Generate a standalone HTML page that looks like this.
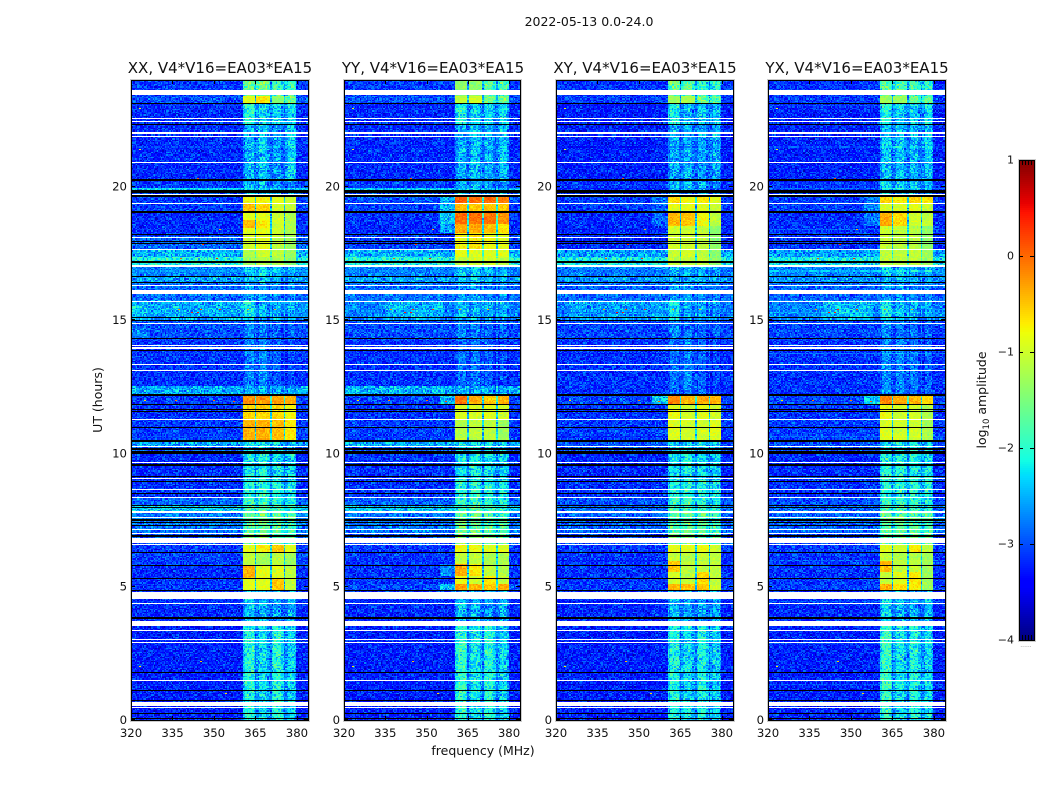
<!DOCTYPE html>
<html lang="en">
<head>
<meta charset="utf-8">
<title>2022-05-13 0.0-24.0</title>
<style>
html,body{margin:0;padding:0;background:#fff;width:1050px;height:800px;overflow:hidden}
#stage{position:relative;width:1050px;height:800px;font-family:"DejaVu Sans","Liberation Sans",sans-serif}
canvas{position:absolute;top:80px;image-rendering:pixelated}
svg{position:absolute;left:0;top:0}
text{font-family:"DejaVu Sans","Liberation Sans",sans-serif;fill:#111}
</style>
</head>
<body>
<div id="stage">
<canvas id="c0" width="177" height="640" style="left:131px"></canvas>
<canvas id="c1" width="176" height="640" style="left:344px"></canvas>
<canvas id="c2" width="177" height="640" style="left:556px"></canvas>
<canvas id="c3" width="177" height="640" style="left:768px"></canvas>
<svg id="overlay" width="1050" height="800">
<text x="589" y="26" text-anchor="middle" font-size="12.5">2022-05-13 0.0-24.0</text>
<text x="220" y="73" text-anchor="middle" font-size="15">XX, V4*V16=EA03*EA15</text>
<text x="433" y="73" text-anchor="middle" font-size="15">YY, V4*V16=EA03*EA15</text>
<text x="645" y="73" text-anchor="middle" font-size="15">XY, V4*V16=EA03*EA15</text>
<text x="857" y="73" text-anchor="middle" font-size="15">YX, V4*V16=EA03*EA15</text>
<text x="483" y="755" text-anchor="middle" font-size="12.5">frequency (MHz)</text>
<text transform="translate(102,400) rotate(-90)" text-anchor="middle" font-size="12.5">UT (hours)</text>
<text transform="translate(986,400) rotate(-90)" text-anchor="middle" font-size="12.5">log<tspan font-size="8.5" dy="3">10</tspan><tspan dy="-3"> amplitude</tspan></text>
<text x="1026" y="647" text-anchor="middle" font-size="6" style="fill:#888">......</text>
</svg>
</div>
<script>
// Axis ticks
const freqTicks = [320, 335, 350, 365, 380];
const timeTicks = [0, 5, 10, 15, 20];
const colorTicks = [1, 0, -1, -2, -3, -4];
const panelNames = ['xx', 'yy', 'xy', 'yx'];

// Sub-band frequency ranges in MHz
const subbands = [[360.5, 365.2], [365.7, 370.4], [370.9, 375.5], [376.2, 380.2]];

// Level rows: [top hour, background, sub-band 1..4, optional wing level near the band]
const levelsXX = [
[24,-3.1,-1.6,-1.5,-1.8,-1.9],[23.42,-3.0,-0.9,-0.7,-1.4,-1.5],[23.12,-3.2,-2.0,-2.3,-2.3,-2.2],
[22.31,-3.2,-2.5,-2.4,-2.6,-2.3],[20.14,-3.1,-2.4,-2.5,-2.6,-2.8],[19.95,-2.4,-2.3,-2.3,-2.4,-2.4],
[19.8,-3.0,-2.3,-2.3,-2.4,-2.5],[19.61,-3.1,-0.8,-0.8,-0.85,-1.0],[19.35,-3.1,-0.5,-0.6,-0.95,-1.1],
[19.05,-3.2,-0.9,-0.9,-1.0,-1.2],[18.75,-3.2,-0.45,-0.7,-1.0,-1.2],[18.45,-3.2,-0.9,-0.9,-1.0,-1.2],
[18.15,-2.9,-1.0,-0.9,-1.1,-1.3],[17.63,-2.5,-1.2,-1.0,-1.1,-1.3],[17.33,-2.1,-1.3,-1.2,-1.2,-1.4],
[17.06,-2.0,-1.6,-1.5,-1.6,-1.7],[16.99,-2.75,-2.4,-2.3,-2.4,-2.5],[16.65,-2.6,-2.4,-2.3,-2.5,-2.5],
[16.39,-2.85,-2.6,-2.6,-2.7,-2.7],[15.75,-2.7,-2.2,-2.5,-2.5,-2.5],[14.93,-3.0,-2.7,-2.8,-2.85,-2.85],
[14.25,-3.15,-2.75,-2.7,-2.9,-3.0],[12.49,-2.55,-2.5,-2.5,-2.5,-2.55],[12.15,-3.1,-0.2,-0.25,-0.3,-0.35],
[11.85,-3.15,-0.6,-0.6,-0.6,-0.8],[11.25,-3.1,-0.4,-0.4,-0.45,-0.7],[10.46,-2.6,-2.2,-2.2,-2.3,-2.4],
[10.24,-2.95,-2.3,-2.2,-2.3,-2.4],[9.98,-3.2,-2.2,-2.1,-2.2,-2.3],[9.0,-3.15,-2.05,-2.0,-2.05,-2.15],
[8.36,-2.9,-1.9,-1.9,-2.0,-2.1],[8.06,-2.35,-1.8,-1.7,-1.8,-1.95],[7.8,-2.8,-1.7,-1.6,-1.7,-1.8],
[6.94,-3.0,-1.6,-1.5,-1.6,-1.8],[6.6,-3.1,-0.9,-0.7,-0.5,-0.9],[6.3,-3.1,-1.1,-1.3,-1.1,-1.3],
[5.78,-3.2,-0.4,-0.9,-0.9,-1.1],[5.32,-3.15,-0.9,-0.9,-0.5,-1.1],[4.84,-3.2,-2.4,-2.5,-2.6,-2.5],
[3.53,-3.25,-2.05,-2.3,-2.0,-2.3]
];
const levelsYY = [
[24,-3.1,-1.4,-1.4,-1.7,-1.8],[23.42,-3.0,-1.1,-1.0,-1.5,-1.5],[23.12,-3.2,-2.1,-2.3,-2.3,-2.3],
[22.31,-3.2,-2.5,-2.4,-2.5,-2.4],[20.14,-3.1,-2.5,-2.5,-2.6,-2.7],[19.95,-2.35,-2.3,-2.3,-2.4,-2.4],
[19.8,-3.0,-2.3,-2.4,-2.4,-2.5],[19.61,-3.0,0.05,-0.05,0.0,-0.1,-2.5],[19.35,-3.1,-0.45,-0.5,-0.5,-0.55,-2.5],
[19.05,-3.15,0.0,-0.05,-0.05,-0.2,-2.4],[18.6,-3.2,-0.35,-0.35,-0.45,-0.65,-2.6],[18.25,-3.1,-0.8,-0.7,-0.8,-0.9],
[17.63,-2.5,-0.85,-0.9,-0.9,-0.9],[17.33,-2.1,-1.1,-1.0,-1.0,-1.1],[17.06,-1.95,-1.5,-1.5,-1.6,-1.7],
[16.99,-2.75,-2.4,-2.3,-2.4,-2.5],[16.65,-2.6,-2.4,-2.3,-2.5,-2.5],[16.39,-2.85,-2.6,-2.6,-2.7,-2.7],
[15.75,-2.75,-2.4,-2.5,-2.5,-2.5],[14.93,-3.0,-2.7,-2.75,-2.85,-2.85],[14.25,-3.15,-2.8,-2.8,-2.9,-3.0],
[12.49,-2.5,-2.45,-2.5,-2.5,-2.5],[12.15,-3.05,-0.1,-0.35,-0.5,-0.4,-2.4],[11.85,-3.15,-0.95,-0.95,-0.9,-1.0],
[11.25,-3.1,-1.15,-1.1,-1.1,-1.3],[10.46,-2.55,-2.2,-2.2,-2.3,-2.4],[10.24,-2.95,-2.3,-2.2,-2.3,-2.4],
[9.98,-3.15,-2.15,-2.1,-2.2,-2.3],[9.0,-3.15,-2.05,-2.0,-2.05,-2.15],[8.36,-2.9,-1.9,-1.9,-2.0,-2.1],
[8.06,-2.4,-1.8,-1.7,-1.8,-1.95],[7.8,-2.8,-1.6,-1.6,-1.7,-1.8],[6.94,-3.0,-1.5,-1.4,-1.5,-1.7],
[6.6,-3.1,-0.8,-0.8,-0.9,-0.9],[6.3,-3.15,-1.1,-1.1,-1.2,-1.2],[5.85,-3.15,-0.35,-0.7,-1.1,-1.2,-2.7],
[5.4,-3.15,-0.85,-1.0,-0.7,-1.1],[5.1,-3.05,-0.3,-0.4,-0.5,-0.35,-2.4],[4.84,-3.2,-2.4,-2.5,-2.6,-2.5],
[3.53,-3.25,-1.95,-2.2,-2.0,-2.3]
];
const levelsXY = [
[24,-3.15,-1.6,-1.7,-1.9,-2.0],[23.42,-3.1,-1.3,-1.2,-1.6,-1.7],[23.12,-3.25,-2.1,-2.4,-2.4,-2.4],
[22.31,-3.25,-2.5,-2.5,-2.6,-2.5],[20.14,-3.15,-2.4,-2.4,-2.5,-2.7],[19.8,-3.1,-2.4,-2.5,-2.5,-2.7],
[19.61,-3.1,-0.6,-0.8,-0.7,-0.9,-2.85],[19.35,-3.1,-0.9,-0.9,-0.9,-1.05,-2.85],[19.05,-3.2,-0.4,-0.5,-0.8,-1.1,-2.9],
[18.5,-3.2,-1.0,-1.0,-1.1,-1.4],[17.63,-2.6,-1.05,-1.0,-1.1,-1.4],[17.33,-2.15,-1.1,-1.1,-1.1,-1.4],
[17.06,-2.0,-1.6,-1.6,-1.6,-1.7],[16.99,-2.75,-2.4,-2.4,-2.5,-2.5],[16.65,-2.65,-2.5,-2.4,-2.5,-2.5],
[16.39,-2.9,-2.6,-2.6,-2.7,-2.7],[15.75,-2.75,-2.15,-2.5,-2.6,-2.6],[14.93,-3.05,-2.7,-2.8,-2.85,-2.85],
[14.25,-3.15,-2.8,-2.7,-2.9,-3.0],[12.15,-3.05,-0.15,-0.4,-0.35,-0.4,-2.4],[11.85,-3.15,-0.85,-1.0,-0.9,-1.0],
[11.25,-3.1,-0.9,-1.0,-1.0,-0.9],[10.46,-3.0,-2.3,-2.2,-2.3,-2.4],[9.98,-3.2,-2.2,-2.1,-2.2,-2.3],
[9.0,-3.15,-2.1,-2.0,-2.1,-2.2],[8.36,-3.0,-1.9,-1.9,-2.0,-2.1],[8.06,-2.85,-1.8,-1.8,-1.9,-2.0],
[7.8,-2.9,-1.7,-1.6,-1.7,-1.8],[6.94,-3.05,-1.6,-1.5,-1.6,-1.7],[6.6,-3.1,-0.85,-0.9,-0.8,-1.0],
[6.3,-3.15,-1.05,-1.15,-1.1,-1.1],[5.95,-3.15,-0.5,-1.1,-1.1,-1.1],[5.55,-3.15,-1.0,-1.1,-0.6,-1.1],
[5.1,-3.1,-0.4,-0.5,-0.5,-1.0],[4.84,-3.2,-2.4,-2.5,-2.6,-2.5],[3.53,-3.25,-2.05,-2.25,-2.1,-2.3]
];
const levelsYX = [
[24,-3.15,-1.7,-1.7,-1.9,-2.0],[23.42,-3.1,-1.3,-1.3,-1.6,-1.7],[23.12,-3.25,-2.1,-2.3,-2.4,-2.3],
[22.31,-3.25,-2.4,-2.4,-2.5,-2.4],[20.14,-3.15,-2.3,-2.3,-2.4,-2.6],[19.8,-3.1,-2.3,-2.4,-2.4,-2.6],
[19.61,-3.1,-0.6,-0.7,-0.6,-0.7,-2.8],[19.35,-3.1,-0.95,-0.95,-0.9,-1.05,-2.8],[19.05,-3.2,-0.35,-0.6,-1.0,-1.1,-2.8],
[18.5,-3.15,-1.05,-1.1,-1.15,-1.4],[17.63,-2.6,-1.1,-1.1,-1.1,-1.3],[17.33,-2.2,-1.1,-1.15,-1.1,-1.3],
[17.06,-2.0,-1.6,-1.6,-1.7,-1.8],[16.99,-2.75,-2.4,-2.4,-2.5,-2.5],[16.65,-2.65,-2.5,-2.4,-2.5,-2.5],
[16.39,-2.9,-2.6,-2.6,-2.7,-2.7],[15.75,-2.75,-2.2,-2.4,-2.5,-2.55],[14.93,-3.05,-2.7,-2.75,-2.85,-2.9],
[14.25,-3.15,-2.7,-2.7,-2.8,-2.9],[12.15,-3.05,-0.15,-0.35,-0.4,-0.6,-2.4],[11.85,-3.15,-0.85,-1.0,-1.0,-1.2],
[11.25,-3.1,-0.95,-1.0,-1.0,-1.25],[10.46,-3.0,-2.2,-2.1,-2.2,-2.3],[9.98,-3.2,-2.05,-2.05,-2.1,-2.2],
[9.0,-3.15,-2.05,-2.0,-2.05,-2.1],[8.36,-3.0,-1.9,-1.9,-2.0,-2.1],[8.06,-2.85,-1.8,-1.8,-1.9,-2.0],
[7.8,-2.9,-1.75,-1.65,-1.7,-1.8],[6.94,-3.05,-1.65,-1.55,-1.6,-1.7],[6.6,-3.1,-0.9,-1.0,-0.7,-1.1],
[6.3,-3.15,-1.1,-1.2,-1.2,-1.3],[5.95,-3.15,-0.45,-1.1,-1.1,-1.3],[5.55,-3.15,-1.1,-0.9,-0.7,-1.3],
[5.1,-3.1,-0.4,-0.65,-0.7,-1.3],[4.84,-3.2,-2.3,-2.45,-2.55,-2.45],[3.53,-3.25,-1.95,-2.2,-2.1,-2.3]
];
const panelLevels = [levelsXX, levelsYY, levelsXY, levelsYX];

// Broad brighter regions per panel: [start hour, end hour, start MHz, end MHz, level added]
const patchesXX = [[15.0,15.7,320,362,0.15],[14.3,14.7,320,327,0.25],[15.2,15.55,320,326,0.2]];
const patchesYY = [[15.0,15.7,335,356,0.25]];
const patchesXY = [[15.0,15.7,325,360,0.15]];
const patchesYX = [[15.0,15.7,340,358,0.3]];
const panelPatches = [patchesXX, patchesYY, patchesXY, patchesYX];

// Channel-to-channel scatter, in log10 amplitude
const scatterA = [0.22,-0.31,0.05,0.38,-0.12,-0.42,0.17,0.29,-0.26,0.02,-0.35,0.41,-0.08,0.13,-0.19,0.33,-0.44,0.09,0.25,-0.15,-0.03,0.36,-0.29,0.11,-0.38,0.19,0.06,-0.23,0.31,-0.1,-0.33];
const scatterB = [-0.14,0.27,-0.36,0.08,0.34,-0.21,0.01,-0.4,0.18,0.3,-0.07,-0.28,0.24,0.12,-0.17,0.39,-0.05,-0.32,0.2,0.04,-0.25,0.35,-0.11,0.15,-0.37,0.28,-0.02,0.1,-0.3,0.21,0.37,-0.18,-0.06,0.14,-0.24,0.32,-0.13];

// Flagged time ranges [start hour, end hour]
const whiteFlags = [[23.44,23.63],[22.52,22.56],[22.44,22.48],[21.96,22.05],[21.86,21.9],[20.89,20.93],[19.71,19.74],[19.36,19.4],[18.09,18.13],[17.65,17.68],[16.99,17.06],[16.26,16.3],[15.99,16.12],[15.68,15.71],[14.85,14.89],[14.03,14.06],[13.93,13.97],[13.31,13.35],[13.07,13.11],[11.24,11.28],[10.24,10.28],[9.64,9.68],[9.04,9.08],[8.62,8.66],[8.34,8.38],[7.78,7.82],[7.57,7.61],[7.13,7.16],[6.98,7.01],[6.62,6.83],[6.56,6.6],[4.54,4.8],[4.35,4.39],[3.69,3.73],[3.53,3.68],[3.34,3.38],[3.0,3.04],[2.9,2.94],[1.46,1.5],[0.53,0.66],[0.45,0.49]];
const blackFlags = [[23.1,23.14],[22.31,22.35],[20.23,20.27],[19.78,19.86],[19.63,19.67],[19.03,19.07],[18.21,18.24],[17.92,17.96],[17.85,17.89],[17.2,17.23],[17.13,17.17],[16.61,16.64],[16.38,16.42],[15.07,15.1],[14.96,15.0],[14.27,14.31],[13.84,13.86],[12.15,12.21],[11.82,11.86],[11.63,11.66],[11.54,11.58],[10.94,10.98],[10.43,10.49],[10.14,10.2],[9.98,10.07],[9.52,9.6],[9.12,9.16],[8.92,8.96],[8.47,8.51],[8.04,8.08],[7.97,8.0],[7.48,7.52],[7.37,7.41],[7.27,7.3],[6.88,6.92],[6.26,6.29],[5.78,5.81],[5.28,5.32],[4.82,4.86],[3.77,3.86],[1.76,1.8],[1.09,1.13],[0.71,0.75],[0.23,0.26],[0.04,0.08]];

// Interference spikes [hour, MHz, level]
const spikes = [[15.4,345,0.3],[15.3,342,0.4],[15.29,344,0.4],[15.39,337,-0.2],[15.38,352,0.3],[15.39,362,-0.3],[15.39,372,-0.4],[11.97,336,-0.1],[11.97,350,0.0],[11.96,357,0.1],[11.98,325,-0.6],[17.87,344,0.4],[17.86,342,0.5],[17.85,346,0.3],[17.3,351,0.4],[17.31,338,0.1],[22.95,323,-0.9],[21.4,323,-0.9],[2.2,345,-0.5],[2.0,323,-0.7],[1.0,354,-0.6],[0.75,354,-0.6],[20.3,344,0.1],[18.4,352,-0.3]];

function xOf(f, left, width) { return left + (f - 320) / 64 * width; }
function yOf(t) { return 720 - t * 640 / 24; }

function jetChannel(v, stops) {
  for (let i = 1; i < stops.length; i++) {
    if (v <= stops[i][0]) {
      const a = stops[i - 1], b = stops[i];
      return a[1] + (b[1] - a[1]) * (v - a[0]) / (b[0] - a[0]);
    }
  }
  return stops[stops.length - 1][1];
}
const jetR = [[0,0],[0.35,0],[0.66,1],[0.89,1],[1,0.5]];
const jetG = [[0,0],[0.125,0],[0.375,1],[0.64,1],[0.91,0],[1,0]];
const jetB = [[0,0.5],[0.11,1],[0.34,1],[0.65,0],[1,0]];
function colorOf(level) {
  const v = Math.min(1, Math.max(0, (level + 4) / 5));
  return 'rgb(' + Math.round(255 * jetChannel(v, jetR)) + ',' + Math.round(255 * jetChannel(v, jetG)) + ',' + Math.round(255 * jetChannel(v, jetB)) + ')';
}

const axLeft = [131, 344, 556, 768];
const axWidth = [177, 176, 177, 177];
const CH = 128, ROWS = 480;

function rowFor(levels, t) {
  let found = levels[0];
  for (const r of levels) { if (t <= r[0]) found = r; else break; }
  return found;
}
function levelAt(row, f) {
  const bg = row[1];
  for (let s = 0; s < subbands.length; s++) {
    if (f >= subbands[s][0] && f <= subbands[s][1]) {
      const lv = row[2 + s];
      const edge = Math.min(f - subbands[s][0], subbands[s][1] - f);
      if (lv < -1.4 && edge < 0.8) return lv - 0.3;
      return lv;
    }
  }
  if (f > subbands[0][1] && f < subbands[3][0]) {
    return bg + 0.3 * (Math.min(row[2], row[3], row[4], row[5]) - bg) + 0.15;
  }
  if (row.length > 6 && f > 355 && f < subbands[0][0]) return row[6];
  return bg;
}

panelLevels.forEach(function (levels, p) {
  const ctx = document.getElementById('c' + p).getContext('2d');
  const w = axWidth[p];
  for (let r = 0; r < ROWS; r++) {
    const t = (r + 0.5) * 24 / ROWS;
    const row = rowFor(levels, t);
    const y0 = Math.floor(yOf((r + 1) * 24 / ROWS)) - 80;
    const y1 = Math.floor(yOf(r * 24 / ROWS)) - 80;
    for (let c = 0; c < CH; c++) {
      const f = 320 + (c + 0.5) * 0.5;
      let base = levelAt(row, f);
      panelPatches[p].forEach(function (q) {
        if (t >= q[0] && t <= q[1] && f >= q[2] && f <= q[3]) base += q[4];
      });
      const gain = base >= -1.4 ? 0.3 : (base > -2.7 ? 0.8 : 0.7);
      const n = (scatterA[(c * 5 + r * r * 3 + c * r + p * 7) % 31] + scatterB[(c * c * 2 + r * 7 + p * 11) % 37]) * gain;
      const x0 = Math.floor(xOf(f - 0.25, 0, w));
      const x1 = Math.floor(xOf(f + 0.25, 0, w));
      ctx.fillStyle = colorOf(base + n);
      ctx.fillRect(x0, y0, x1 - x0, y1 - y0);
    }
  }
  spikes.forEach(function (s) {
    ctx.fillStyle = colorOf(s[2]);
    ctx.fillRect(Math.floor(xOf(s[1], 0, w)), Math.floor(yOf(s[0])) - 80, 2, 1);
  });
  blackFlags.forEach(function (b) {
    const ya = Math.round(yOf(b[1])) - 80;
    const h = Math.max(1, Math.round(yOf(b[0])) - 80 - ya);
    ctx.fillStyle = '#000';
    ctx.fillRect(0, ya, w, h);
  });
  whiteFlags.forEach(function (b) {
    const ya = Math.round(yOf(b[1])) - 80;
    const h = Math.max(1, Math.round(yOf(b[0])) - 80 - ya);
    ctx.fillStyle = '#fff';
    ctx.fillRect(0, ya, w, h);
  });
});

const NS = 'http://www.w3.org/2000/svg';
const svg = document.getElementById('overlay');
function mk(tag, props) {
  const el = document.createElementNS(NS, tag);
  for (const k in props) el.setAttribute(k, props[k]);
  svg.appendChild(el);
  return el;
}

panelNames.forEach(function (name, p) {
  const L = axLeft[p], W = axWidth[p];
  const halo = mk('rect', { x: L - 0.5, y: 79.5, width: W + 2, height: 642, fill: 'none', stroke: '#ccc', 'stroke-width': 1 });
  
  
  const spine = mk('rect', { x: L + 0.5, y: 80.5, width: W, height: 640, fill: 'none', stroke: '#000', 'stroke-width': 1 });
  
  
  freqTicks.forEach(function (f) {
    const x = Math.round(xOf(f, L, W)) + 0.5;
    const tb = mk('line', { x1: x, x2: x, y1: 720, y2: 716, stroke: '#000', 'stroke-width': 1 });
    
    
    const tt = mk('line', { x1: x, x2: x, y1: 80, y2: 84, stroke: '#000', 'stroke-width': 1 });
    
    
    const lab = mk('text', { x: xOf(f, L, W), y: 737, 'text-anchor': 'middle', 'font-size': 11.7 });
    lab.textContent = String(f);
    
    
  });
  timeTicks.forEach(function (t) {
    const y = Math.round(yOf(t)) - 0.5;
    const tl = mk('line', { x1: L, x2: L + 4, y1: y, y2: y, stroke: '#000', 'stroke-width': 1 });
    
    
    const tr = mk('line', { x1: L + W, x2: L + W - 4, y1: y, y2: y, stroke: '#000', 'stroke-width': 1 });
    
    
    const lab = mk('text', { x: L - 4, y: yOf(t) + 4, 'text-anchor': 'end', 'font-size': 11.7 });
    lab.textContent = String(t);
    
    
  });
});

// Colorbar
const cbLeft = 1019, cbWidth = 15, cbTop = 160, cbHeight = 480;
function cbY(level) { return cbTop + (1 - level) / 5 * cbHeight; }
for (let i = 0; i < 240; i++) {
  const level = 1 - (i + 0.5) * 5 / 240;
  const seg = mk('rect', { x: cbLeft, y: cbTop + i * 2, width: cbWidth + 1, height: 2.2, fill: colorOf(level) });
  
  
}
const cbHalo = mk('rect', { x: cbLeft - 0.5, y: cbTop - 0.5, width: cbWidth + 2, height: cbHeight + 2, fill: 'none', stroke: '#ccc', 'stroke-width': 1 });


const cbFrame = mk('rect', { x: cbLeft + 0.5, y: cbTop + 0.5, width: cbWidth, height: cbHeight, fill: 'none', stroke: '#000', 'stroke-width': 1 });


colorTicks.forEach(function (v) {
  const y = Math.round(cbY(v)) + 0.5;
  if (v < 1 && v > -4) {
    const a = mk('line', { x1: cbLeft, x2: cbLeft + 4, y1: y, y2: y, stroke: '#000', 'stroke-width': 1 });
    
    
    const b = mk('line', { x1: cbLeft + cbWidth - 4, x2: cbLeft + cbWidth, y1: y, y2: y, stroke: '#000', 'stroke-width': 1 });
    
    
  }
  const lab = mk('text', { x: cbLeft - 5, y: cbY(v) + 3.5, 'text-anchor': 'end', 'font-size': 11 });
  lab.textContent = v < 0 ? '\u2212' + Math.abs(v) : String(v);
  
  
});
for (let i = 1; i < 5; i++) {
  const x = cbLeft + i * 3 + 0.5;
  const up = mk('line', { x1: x, x2: x, y1: cbTop, y2: cbTop + 5, stroke: '#000', 'stroke-width': 1 });
  
  
  const dn = mk('line', { x1: x, x2: x, y1: cbTop + cbHeight, y2: cbTop + cbHeight - 5, stroke: '#000', 'stroke-width': 1 });
  
  
}
</script>
</body>
</html>
